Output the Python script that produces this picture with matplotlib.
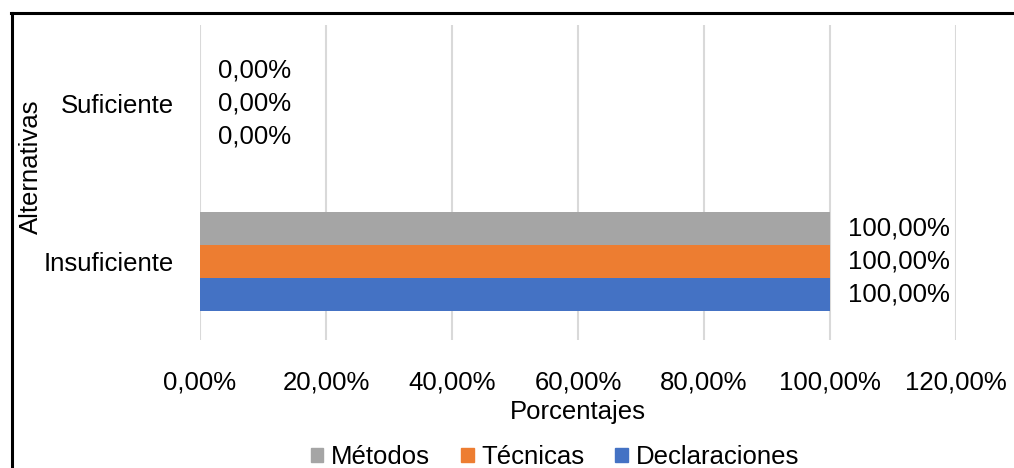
import matplotlib
matplotlib.use("Agg")
import matplotlib.pyplot as plt
from matplotlib.lines import Line2D
from matplotlib.patches import Patch
import numpy as np

plt.rcParams['font.family'] = ['Liberation Sans', 'DejaVu Sans']

categories = ["Insuficiente", "Suficiente"]
series = ["Declaraciones", "Técnicas", "Métodos"]
values = {
    "Declaraciones": [100.0, 0.0],
    "Técnicas": [100.0, 0.0],
    "Métodos": [100.0, 0.0],
}
colors = {"Declaraciones": "#4472C4", "Técnicas": "#ED7D31", "Métodos": "#A5A5A5"}
xticks = [0, 20, 40, 60, 80, 100, 120]

def pct(v):
    return f"{v:.2f}%".replace(".", ",")

fig = plt.figure(figsize=(10.14, 4.68), dpi=100)
ax = fig.add_axes([200 / 1014, 1 - 340 / 468, 756 / 1014, 315 / 468])

fs = 18.5
h = 0.21
y = np.arange(len(categories))
for i, s in enumerate(series):
    pos = y + (i - 1) * h
    ax.barh(pos, values[s], height=h, color=colors[s], zorder=2)
    for p, v in zip(pos, values[s]):
        ax.annotate(pct(v), (v, p), xytext=(13, 0), textcoords="offset points",
                    va="center", ha="left", fontsize=fs)

ax.set_xlim(0, 120)
ax.set_ylim(-0.5, 1.5)
ax.set_xticks(xticks)
ax.set_xticklabels([pct(t) for t in xticks], fontsize=fs)
ax.set_yticks(y)
ax.set_yticklabels(categories, fontsize=fs)
ax.tick_params(axis="x", length=0, pad=22)
ax.tick_params(axis="y", length=0, pad=19)
ax.grid(axis="x", color="#D9D9D9", linewidth=1.5, zorder=0)
for sp in ax.spines.values():
    sp.set_visible(False)

ax.set_xlabel("Porcentajes", fontsize=fs, labelpad=4)
fig.text(31 / 1014, 1 - 167 / 468, "Alternativas", rotation=90, fontsize=fs,
         ha="center", va="center")

handles = [Patch(color=colors[s], label=s) for s in ["Métodos", "Técnicas", "Declaraciones"]]
fig.legend(handles=handles, loc="center", bbox_to_anchor=(555 / 1014, 1 - 457 / 468),
           ncol=3, frameon=False, fontsize=fs, handlelength=0.5, handleheight=0.5,
           handletextpad=0.3, columnspacing=1.2, borderpad=0)

# outer frame (left and top edges visible)
fig.add_artist(Line2D([11.5 / 1014, 11.5 / 1014], [0, 1 - 12.5 / 468], color="black",
                      linewidth=2.2, transform=fig.transFigure))
fig.add_artist(Line2D([10.5 / 1014, 1], [1 - 12.5 / 468, 1 - 12.5 / 468], color="black",
                      linewidth=2.2, transform=fig.transFigure))

fig.savefig("out.png", dpi=100)
